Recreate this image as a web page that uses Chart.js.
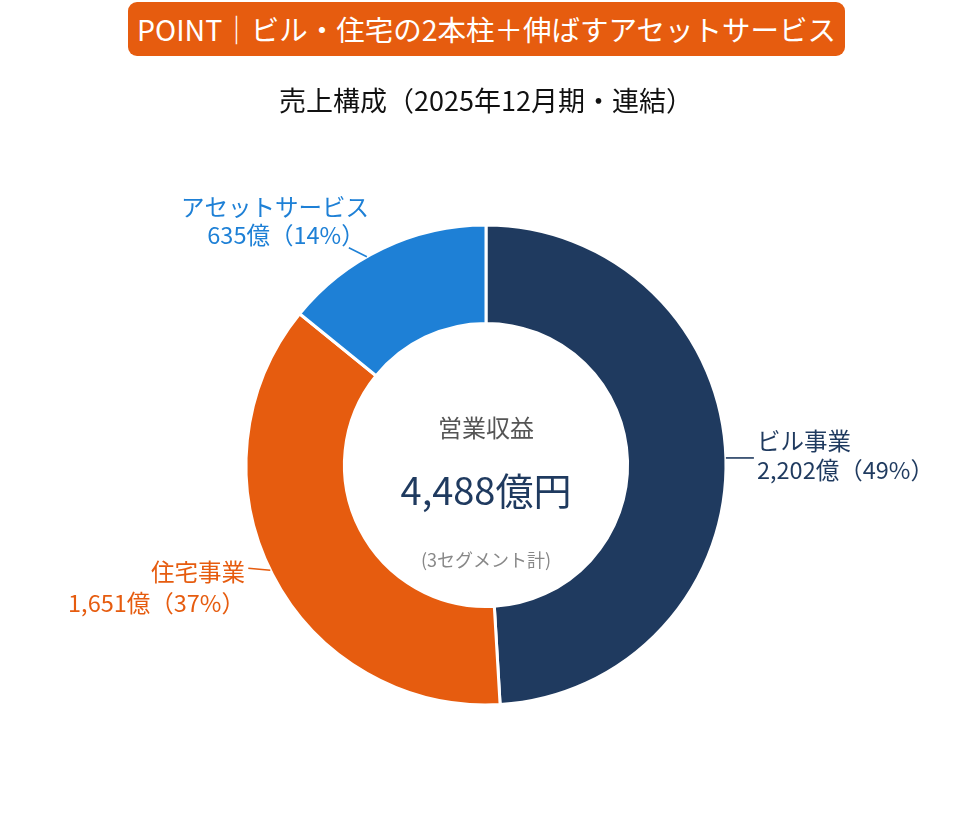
<!DOCTYPE html>
<html><head><meta charset="utf-8">
<script src="https://cdn.jsdelivr.net/npm/chart.js@4.4.1/dist/chart.umd.min.js"></script>
<style>
html,body{margin:0;padding:0;background:#fff;width:972px;height:831px;overflow:hidden;font-family:"Noto Sans CJK JP","Noto Sans",sans-serif;}
#head{position:absolute;left:128px;top:2px;width:717px;height:54px;border-radius:9px;background:#e65c0f;color:#fff;font-size:28.5px;line-height:54px;text-align:center;}
#sub{position:absolute;left:0;top:80px;width:972px;text-align:center;font-size:27px;line-height:40px;color:#111;}
#wrap{position:absolute;left:0;top:0;width:972px;height:831px;}
</style></head>
<body>
<div id="wrap"><canvas id="c"></canvas></div>
<div id="head">POINT｜ビル・住宅の2本柱＋伸ばすアセットサービス</div>
<div id="sub">売上構成（2025年12月期・連結）</div>
<script>
const categories = ["ビル事業", "住宅事業", "アセットサービス"];
const values = [2202, 1651, 635];
const percents = ["49%", "37%", "14%"];
const totalLabel = "4,488億円";
const centerTitle = "営業収益";
const centerNote = "(3セグメント計)";
const colors = ["#1f3a5f", "#e65c0f", "#1e80d6"];

function fmt(n){return n.toLocaleString("en-US");}

const labelCfg = [
  {angOff:0, dx:28, dy:0, tx:757, tx2:757, ty1:441, ty2:470, align:"left"},
  {angOff:0.02, dx:-22, dy:-2, tx:245, tx2:245, ty1:572, ty2:603, align:"right"},
  {angOff:-0.075, dx:-18, dy:-9, tx:275, tx2:286, ty1:207, ty2:235, align:"center"}
];

const labelPlugin = {
  id:"labels",
  afterDatasetsDraw(chart){
    const ctx = chart.ctx;
    const meta = chart.getDatasetMeta(0);
    ctx.save();
    meta.data.forEach((arc, i) => {
      const p = arc.getProps(["x","y","startAngle","endAngle","outerRadius","innerRadius"], true);
      const cfg = labelCfg[i];
      const a = (p.startAngle + p.endAngle)/2 + cfg.angOff;
      const sx = p.x + Math.cos(a)*p.outerRadius;
      const sy = p.y + Math.sin(a)*p.outerRadius;
      ctx.strokeStyle = colors[i];
      ctx.lineWidth = 1.6;
      ctx.beginPath();
      ctx.moveTo(sx, sy);
      ctx.lineTo(sx + cfg.dx, sy + cfg.dy);
      ctx.stroke();
      ctx.fillStyle = colors[i];
      ctx.font = '23.5px "Noto Sans CJK JP"';
      ctx.textAlign = cfg.align;
      ctx.textBaseline = "middle";
      ctx.fillText(categories[i], cfg.tx, cfg.ty1);
      ctx.fillText(fmt(values[i]) + "億（" + percents[i] + "）", cfg.tx2, cfg.ty2);
    });
    const cx = meta.data[0].x, cy = meta.data[0].y;
    ctx.textAlign = "center";
    ctx.textBaseline = "middle";
    ctx.fillStyle = "#555";
    ctx.font = '24px "Noto Sans CJK JP"';
    ctx.fillText(centerTitle, cx, cy - 37);
    ctx.fillStyle = "#1f3a5f";
    ctx.font = '38px "Noto Sans CJK JP"';
    ctx.fillText(totalLabel, cx, cy + 26);
    ctx.fillStyle = "#888";
    ctx.font = '18px "Noto Sans CJK JP"';
    ctx.fillText(centerNote, cx, cy + 95);
    ctx.restore();
  }
};

new Chart(document.getElementById("c"), {
  type: "doughnut",
  data: {
    labels: categories,
    datasets: [{
      data: values,
      backgroundColor: colors,
      borderColor: "#ffffff",
      borderWidth: 3,
      hoverOffset: 0
    }]
  },
  options: {
    responsive: true,
    maintainAspectRatio: false,
    animation: false,
    cutout: "59%",
    layout: {padding: {top: 223.5, bottom: 124.5, left: 244.5, right: 244.5}},
    plugins: {legend: {display: false}, tooltip: {enabled: false}, title: {display: false}}
  },
  plugins: [labelPlugin]
});
</script>
</body></html>
